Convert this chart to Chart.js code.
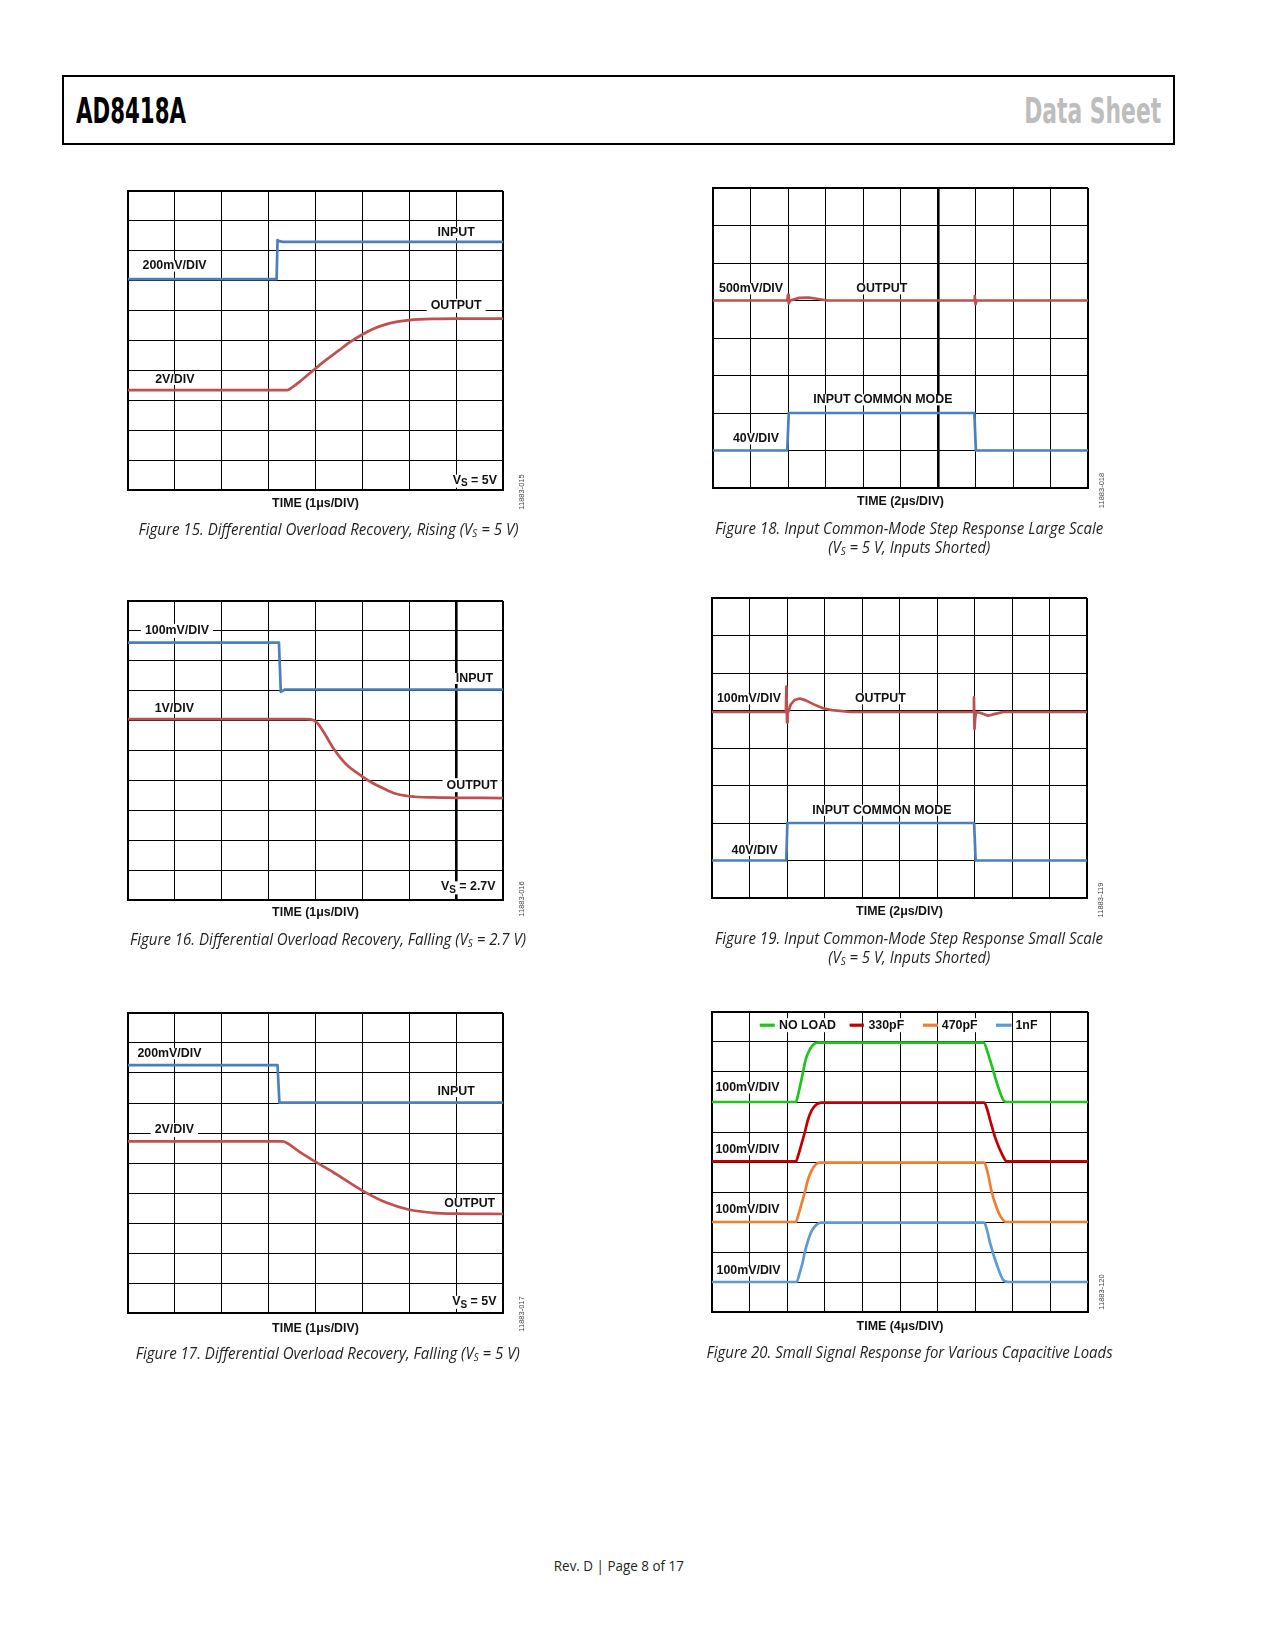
<!DOCTYPE html>
<html><head><meta charset="utf-8">
<script src="https://cdn.jsdelivr.net/npm/chart.js@4.4.0/dist/chart.umd.min.js"></script>
<style>
html,body{margin:0;padding:0;background:#fff}
body{width:1275px;height:1650px;position:relative;overflow:hidden}
.cv{position:absolute}
#hdr{position:absolute;left:62px;top:75px;width:1113px;height:70px;border:2px solid #000;box-sizing:border-box}
.ht{position:absolute;font-family:"Liberation Sans Narrow","DejaVu Sans Condensed","Liberation Sans",sans-serif;font-weight:bold;font-size:36px;line-height:36px;white-space:nowrap}
.ht span{display:inline-block}
.cap{position:absolute;width:700px;text-align:center;font-family:"Open Sans",sans-serif;font-style:italic;font-size:15.5px;line-height:20px;white-space:nowrap;color:#231f20}
.cap span.in{display:inline-block;transform-origin:50% 50%}
.cap .s{font-size:10px;position:relative;top:2px}
.foot{position:absolute;width:400px;text-align:center;font-family:"Open Sans",sans-serif;font-size:14px;line-height:20px;white-space:nowrap;color:#231f20}
.foot span{display:inline-block;transform-origin:50% 50%}
</style></head><body>
<div id="hdr"></div>
<div class="ht" id="h1" style="left:76px;top:93px;color:#000"><span style="transform-origin:0 50%">AD8418A</span></div>
<div class="ht" id="h2" style="right:114px;top:93px;color:#bdbdbd;text-align:right"><span style="transform-origin:100% 50%">Data Sheet</span></div>
<script>
// ---------------- DATA (time in divisions, value in divisions) ----------------
// Figure 15
const F15_IN_T  = [0, 3.17, 3.19, 3.21, 3.30, 8];
const F15_IN_V  = [7.05, 7.05, 8.36, 8.33, 8.30, 8.30];
const F15_OUT_T = [0, 3.40, 3.50, 3.70, 3.95, 4.20, 4.50, 4.75, 5.00, 5.25, 5.50, 5.75, 6.00, 6.50, 7.00, 8.00];
const F15_OUT_V = [3.34, 3.34, 3.43, 3.67, 4.00, 4.32, 4.67, 4.96, 5.20, 5.40, 5.54, 5.63, 5.68, 5.72, 5.73, 5.73];
// Figure 16
const F16_IN_T  = [0, 3.22, 3.26, 3.35, 8];
const F16_IN_V  = [8.61, 8.61, 6.96, 7.04, 7.04];
const F16_OUT_T = [0, 3.80, 3.95, 4.05, 4.20, 4.37, 4.55, 4.70, 5.00, 5.20, 5.44, 5.70, 6.00, 6.50, 8.00];
const F16_OUT_V = [6.05, 6.05, 6.02, 5.90, 5.55, 5.10, 4.72, 4.47, 4.13, 3.93, 3.74, 3.56, 3.47, 3.43, 3.41];
// Figure 17
const F17_IN_T  = [0, 3.19, 3.23, 8];
const F17_IN_V  = [8.26, 8.26, 7.01, 7.01];
const F17_OUT_T = [0, 3.30, 3.40, 3.66, 3.98, 4.37, 4.99, 5.51, 6.00, 6.50, 7.00, 8.00];
const F17_OUT_V = [5.72, 5.72, 5.66, 5.37, 5.06, 4.70, 4.09, 3.68, 3.44, 3.34, 3.31, 3.30];
// Figure 18
const F18_IN_T  = [0, 1.98, 2.02, 6.97, 7.01, 10];
const F18_IN_V  = [1.0, 1.0, 2.0, 2.0, 1.0, 1.0];
const F18_OUT_T = [0, 1.98, 2.00, 2.02, 2.06, 2.30, 2.55, 2.80, 3.05, 6.96, 6.98, 7.00, 7.03, 10];
const F18_OUT_V = [5.0, 5.0, 5.15, 4.92, 5.0, 5.07, 5.08, 5.04, 5.0, 5.0, 5.12, 4.90, 5.0, 5.0];
// Figure 19
const F19_IN_T  = [0, 1.98, 2.01, 6.99, 7.03, 10];
const F19_IN_V  = [1, 1, 2, 2, 1, 1];
const F19_OUT_T = [0, 1.97, 1.985, 2.00, 2.015, 2.04, 2.10, 2.20, 2.34, 2.50, 2.70, 2.96, 3.20, 3.40, 3.70, 6.97, 6.985, 7.00, 7.02, 7.05, 7.15, 7.36, 7.55, 7.76, 10];
const F19_OUT_V = [4.96, 4.96, 5.64, 4.68, 4.92, 4.98, 5.16, 5.28, 5.32, 5.27, 5.17, 5.06, 5.01, 4.99, 4.96, 4.96, 5.35, 4.50, 4.82, 4.96, 4.94, 4.86, 4.91, 4.96, 4.96];
// Figure 20
const F20_NOLOAD_T = [0, 2.23, 2.30, 2.38, 2.42, 2.50, 2.60, 2.70, 2.82, 7.22, 7.35, 7.49, 7.62, 7.75, 7.86, 10];
const F20_NOLOAD_V = [7.0, 7.0, 7.3, 7.75, 8.0, 8.45, 8.75, 8.92, 8.98, 8.98, 8.58, 8.0, 7.47, 7.06, 7.0, 7.0];
const F20_330_T = [0, 2.23, 2.30, 2.38, 2.47, 2.55, 2.65, 2.78, 2.91, 7.24, 7.32, 7.40, 7.53, 7.71, 7.84, 10];
const F20_330_V = [5.02, 5.02, 5.25, 5.6, 6.0, 6.4, 6.72, 6.92, 6.98, 6.98, 6.75, 6.38, 5.82, 5.27, 5.02, 5.02];
const F20_470_T = [0, 2.23, 2.30, 2.38, 2.47, 2.55, 2.65, 2.76, 2.87, 7.24, 7.34, 7.44, 7.55, 7.66, 7.82, 10];
const F20_470_V = [3.0, 3.0, 3.25, 3.6, 4.0, 4.4, 4.72, 4.92, 4.98, 4.98, 4.6, 4.0, 3.55, 3.22, 3.0, 3.0];
const F20_1NF_T = [0, 2.25, 2.32, 2.40, 2.47, 2.56, 2.66, 2.79, 2.91, 7.24, 7.32, 7.40, 7.58, 7.75, 7.89, 10];
const F20_1NF_V = [1.0, 1.0, 1.25, 1.6, 2.0, 2.4, 2.72, 2.92, 2.98, 2.98, 2.7, 2.28, 1.56, 1.06, 1.0, 1.0];
const F20_LEGEND = ['NO LOAD', '330pF', '470pF', '1nF'];

// ---------------- STYLE / LAYOUT ----------------
const BLUE = '#4a7fc1', RED = '#c0504d';
const C20 = ['#1fc41f', '#c00000', '#f07e2e', '#5b9bd5'];
const LF = 'bold 12.4px "Liberation Sans", Arial, Helvetica, sans-serif';
const PAD = {l: 10, r: 34, t: 10, b: 30};

const DEFS = [
  {id:'f15', left:128, top:191, w:375, h:299, xd:8, yd:10, thick:null, time:'TIME (1\u03bcs/DIV)', tdy:13.5, code:'11883-015', cdx:18.5, cdy:2,
   series:[{t:F15_IN_T,v:F15_IN_V,c:BLUE},{t:F15_OUT_T,v:F15_OUT_V,c:RED,sm:true}],
   labels:[{t:'INPUT',x:7.0,y:8.61,a:'center'},{t:'200mV/DIV',x:0.31,y:7.49,a:'left'},{t:'OUTPUT',x:7.0,y:6.16,a:'center',bg:true},{t:'2V/DIV',x:0.58,y:3.70,a:'left'},{vs:' = 5V',x:7.87,y:0.33,a:'right'}]},
  {id:'f16', left:128, top:601, w:375, h:299, xd:8, yd:10, thick:7, time:'TIME (1\u03bcs/DIV)', tdy:12.5, code:'11883-016', cdx:18.5, cdy:-1,
   series:[{t:F16_IN_T,v:F16_IN_V,c:BLUE},{t:F16_OUT_T,v:F16_OUT_V,c:RED,sm:true}],
   labels:[{t:'100mV/DIV',x:0.36,y:9.0,a:'left',bg:true},{t:'INPUT',x:7.39,y:7.41,a:'center'},{t:'1V/DIV',x:0.57,y:6.40,a:'left'},{t:'OUTPUT',x:7.34,y:3.84,a:'center',bg:true},{vs:' = 2.7V',x:7.84,y:0.44,a:'right'}]},
  {id:'f17', left:128, top:1013, w:375, h:300, xd:8, yd:10, thick:null, time:'TIME (1\u03bcs/DIV)', tdy:15.5, code:'11883-017', cdx:18.5, cdy:1,
   series:[{t:F17_IN_T,v:F17_IN_V,c:BLUE},{t:F17_OUT_T,v:F17_OUT_V,c:RED,sm:true}],
   labels:[{t:'200mV/DIV',x:0.2,y:8.64,a:'left'},{t:'INPUT',x:7.0,y:7.38,a:'center'},{t:'2V/DIV',x:0.57,y:6.1,a:'left',bg:true},{t:'OUTPUT',x:7.29,y:3.65,a:'center'},{vs:' = 5V',x:7.86,y:0.39,a:'right'}]},
  {id:'f18', left:713, top:188, w:375, h:300, xd:10, yd:8, thick:6, time:'TIME (2\u03bcs/DIV)', tdy:13.7, code:'11883-018', cdx:13.5, cdy:2.5,
   series:[{t:F18_IN_T,v:F18_IN_V,c:BLUE},{t:F18_OUT_T,v:F18_OUT_V,c:RED}],
   labels:[{t:'500mV/DIV',x:0.16,y:5.31,a:'left'},{t:'OUTPUT',x:4.5,y:5.31,a:'center'},{t:'INPUT COMMON MODE',x:4.53,y:2.35,a:'center'},{t:'40V/DIV',x:0.53,y:1.31,a:'left'}]},
  {id:'f19', left:712, top:598, w:375, h:300, xd:10, yd:8, thick:null, time:'TIME (2\u03bcs/DIV)', tdy:14, code:'11883-119', cdx:14, cdy:2,
   series:[{t:F19_IN_T,v:F19_IN_V,c:BLUE},{t:F19_OUT_T,v:F19_OUT_V,c:RED}],
   labels:[{t:'100mV/DIV',x:0.13,y:5.31,a:'left'},{t:'OUTPUT',x:4.49,y:5.31,a:'center'},{t:'INPUT COMMON MODE',x:4.53,y:2.34,a:'center'},{t:'40V/DIV',x:0.52,y:1.27,a:'left'}]},
  {id:'f20', left:712, top:1012, w:376, h:300, xd:10, yd:10, thick:null, time:'TIME (4\u03bcs/DIV)', tdy:14.3, code:'11883-120', cdx:13.5, cdy:-20,
   series:[{t:F20_NOLOAD_T,v:F20_NOLOAD_V,c:C20[0],sm:true},{t:F20_330_T,v:F20_330_V,c:C20[1],sm:true},{t:F20_470_T,v:F20_470_V,c:C20[2],sm:true},{t:F20_1NF_T,v:F20_1NF_V,c:C20[3],sm:true}],
   labels:[{t:'100mV/DIV',x:0.09,y:7.47,a:'left'},{t:'100mV/DIV',x:0.09,y:5.41,a:'left'},{t:'100mV/DIV',x:0.09,y:3.41,a:'left'},{t:'100mV/DIV',x:0.12,y:1.37,a:'left'}],
   legend:{y:9.56, items:[{x1:1.27,x2:1.67,tx:1.78},{x1:3.66,x2:4.04,tx:4.16},{x1:5.61,x2:6.01,tx:6.11},{x1:7.55,x2:7.97,tx:8.07}]}}
];

function mk(ts, vs){ return ts.map((t,i)=>({x:t, y:vs[i]})); }

function textBox(ctx, L, px){
  ctx.font = LF;
  const w = L.vs ? vsWidth(ctx, L.vs) : ctx.measureText(L.t).width;
  const x0 = L.a==='left' ? px : (L.a==='right' ? px - w : px - w/2);
  return {x0, w};
}
function vsWidth(ctx, rest){
  ctx.font = LF; let w = ctx.measureText('V').width + ctx.measureText(rest).width;
  ctx.font = 'bold 10px "Liberation Sans", Arial, sans-serif'; w += ctx.measureText('S').width;
  ctx.font = LF; return w;
}

function overlay(def){
  return {
    id:'ov_'+def.id,
    beforeDatasetsDraw(ch){
      const ctx = ch.ctx, sx = ch.scales.x, sy = ch.scales.y;
      ctx.save(); ctx.fillStyle = '#fff';
      for (const L of def.labels){
        const px = sx.getPixelForValue(L.x), py = sy.getPixelForValue(L.y);
        const b = textBox(ctx, L, px);
        if (L.bg) ctx.fillRect(b.x0 - 4, py - 7, b.w + 8, 14);
        else ctx.fillRect(b.x0 - 1, py - 5.5, b.w + 2, L.vs ? 13 : 11);
      }
      if (def.legend){
        ctx.font = LF;
        def.legend.items.forEach((it, i)=>{
          const px = sx.getPixelForValue(it.tx), py = sy.getPixelForValue(def.legend.y);
          const w = ctx.measureText(F20_LEGEND[i]).width;
          ctx.fillRect(px - 2, py - 7, w + 5, 14);
        });
      }
      ctx.restore();
    },
    afterDatasetsDraw(ch){
      const ctx = ch.ctx, sx = ch.scales.x, sy = ch.scales.y, A = ch.chartArea;
      ctx.save();
      ctx.fillStyle = '#111'; ctx.textBaseline = 'middle'; ctx.font = LF;
      for (const L of def.labels){
        const px = sx.getPixelForValue(L.x), py = sy.getPixelForValue(L.y);
        const b = textBox(ctx, L, px);
        if (L.vs){
          ctx.textAlign = 'left'; ctx.font = LF;
          let x = b.x0; ctx.fillText('V', x, py); x += ctx.measureText('V').width;
          ctx.font = 'bold 10px "Liberation Sans", Arial, sans-serif';
          ctx.fillText('S', x, py + 3.5); x += ctx.measureText('S').width;
          ctx.font = LF; ctx.fillText(L.vs, x, py);
        } else {
          ctx.textAlign = 'left'; ctx.fillText(L.t, b.x0, py);
        }
      }
      if (def.legend){
        def.legend.items.forEach((it, i)=>{
          const py = sy.getPixelForValue(def.legend.y);
          ctx.strokeStyle = C20[i]; ctx.lineWidth = 3.2;
          ctx.beginPath(); ctx.moveTo(sx.getPixelForValue(it.x1), py); ctx.lineTo(sx.getPixelForValue(it.x2), py); ctx.stroke();
          ctx.font = LF; ctx.textAlign = 'left'; ctx.fillStyle = '#111';
          ctx.fillText(F20_LEGEND[i], sx.getPixelForValue(it.tx), py);
        });
      }
      // axis caption
      ctx.font = LF; ctx.textAlign = 'center'; ctx.fillStyle = '#111';
      ctx.fillText(def.time, (A.left + A.right)/2, A.bottom + def.tdy);
      // figure code
      ctx.translate(A.right + def.cdx, A.bottom + def.cdy);
      ctx.rotate(-Math.PI/2);
      ctx.font = '7.5px "Liberation Sans", Arial, sans-serif'; ctx.fillStyle = '#444';
      ctx.textAlign = 'center'; ctx.fillText(def.code, 0, 0);
      ctx.restore();
    }
  };
}

function gridW(max, thick){
  return (c)=>{
    const v = c.tick ? c.tick.value : null;
    if (v === 0 || v === max) return 2;
    if (thick !== null && v === thick) return 2.6;
    return 1;
  };
}

for (const def of DEFS){
  const cv = document.createElement('canvas');
  cv.width = def.w + PAD.l + PAD.r; cv.height = def.h + PAD.t + PAD.b;
  cv.className = 'cv';
  cv.style.left = (def.left - PAD.l) + 'px'; cv.style.top = (def.top - PAD.t) + 'px';
  cv.style.width = cv.width + 'px'; cv.style.height = cv.height + 'px';
  document.body.appendChild(cv);
  new Chart(cv, {
    type:'line',
    data:{datasets: def.series.map(s=>({data: mk(s.t, s.v), borderColor: s.c, borderWidth: 2.7, pointRadius: 0, fill: false,
      tension: 0, cubicInterpolationMode: s.sm ? 'monotone' : 'default', borderJoinStyle:'round'}))},
    options:{
      responsive:false, animation:false,
      layout:{padding:{left:PAD.l, right:PAD.r, top:PAD.t, bottom:PAD.b}},
      plugins:{legend:{display:false}, tooltip:{enabled:false}},
      scales:{
        x:{type:'linear', min:0, max:def.xd, ticks:{display:false, stepSize:1},
           grid:{color:'#000', lineWidth: gridW(def.xd, def.thick), drawTicks:false},
           border:{display:true, color:'#000', width:2}},
        y:{type:'linear', min:0, max:def.yd, ticks:{display:false, stepSize:1},
           grid:{color:'#000', lineWidth: gridW(def.yd, null), drawTicks:false},
           border:{display:true, color:'#000', width:2}}
      }
    },
    plugins:[overlay(def)]
  });
}

// ---------------- CAPTIONS ----------------
const CAPS = [
  {cx:328, cy:529,  w:380, h:'Figure 15. Differential Overload Recovery, Rising (V<span class="s">S</span> = 5 V)'},
  {cx:909, cy:528.5,w:388, h:'Figure 18. Input Common-Mode Step Response Large Scale'},
  {cx:909, cy:547,  w:162, h:'(V<span class="s">S</span> = 5 V, Inputs Shorted)'},
  {cx:328, cy:939.5,w:396, h:'Figure 16. Differential Overload Recovery, Falling (V<span class="s">S</span> = 2.7 V)'},
  {cx:909, cy:938.5,w:388, h:'Figure 19. Input Common-Mode Step Response Small Scale'},
  {cx:909, cy:957,  w:162, h:'(V<span class="s">S</span> = 5 V, Inputs Shorted)'},
  {cx:328, cy:1353.5,w:384,h:'Figure 17. Differential Overload Recovery, Falling (V<span class="s">S</span> = 5 V)'},
  {cx:909.5,cy:1352,w:406, h:'Figure 20. Small Signal Response for Various Capacitive Loads'}
];
const fits = [];
for (const c of CAPS){
  const d = document.createElement('div'); d.className = 'cap';
  d.style.left = (c.cx - 350) + 'px'; d.style.top = (c.cy - 10.5) + 'px';
  d.innerHTML = '<span class="in">' + c.h + '</span>';
  document.body.appendChild(d);
  fits.push([d.firstChild, c.w]);
}
const ft = document.createElement('div'); ft.className = 'foot';
ft.style.left = (618.5 - 200) + 'px'; ft.style.top = (1566 - 10.5) + 'px';
ft.innerHTML = '<span>Rev. D | Page 8 of 17</span>';
document.body.appendChild(ft);
fits.push([ft.firstChild, 130]);
fits.push([document.querySelector('#h1 span'), 110]);
fits.push([document.querySelector('#h2 span'), 137]);

function doFit(){
  for (const [el, w] of fits){
    el.style.transform = 'none';
    const cur = el.getBoundingClientRect().width;
    if (cur > 0) el.style.transform = 'scaleX(' + (w/cur) + ')';
  }
}
doFit();
if (document.fonts && document.fonts.ready) document.fonts.ready.then(doFit);
</script>
</body></html>
